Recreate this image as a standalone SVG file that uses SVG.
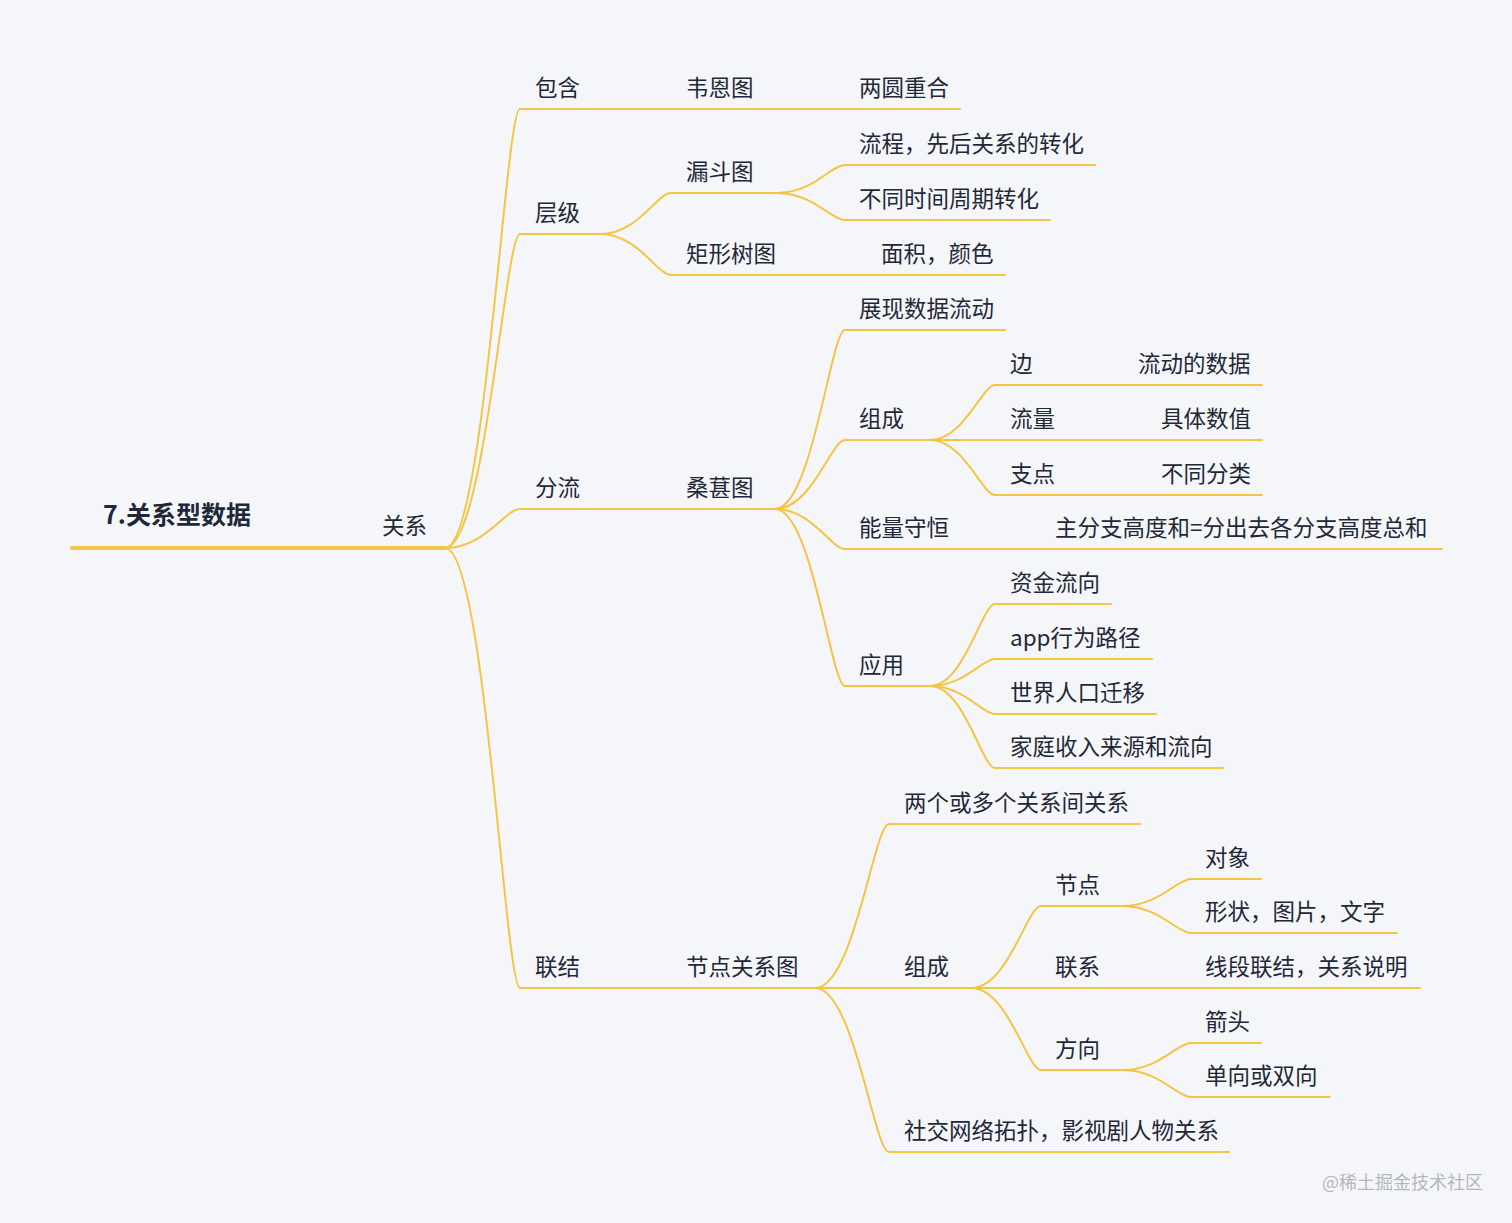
<svg xmlns="http://www.w3.org/2000/svg" width="1512" height="1223" viewBox="0 0 1512 1223">
<style>
.t{font-family:"Noto Sans CJK SC","Noto Sans",sans-serif;font-size:22.5px;fill:#1f2838}
.r{font-family:"Noto Sans CJK SC","Noto Sans",sans-serif;font-size:25px;font-weight:bold;fill:#1f2838}
.u{stroke:#f6c445;stroke-width:2;fill:none;stroke-linecap:round}
.ut{stroke:#f6c445;stroke-width:4;fill:none;stroke-linecap:round}
.c{stroke:#f6c445;stroke-width:2;fill:none}
.w{font-family:"Noto Sans CJK SC","Noto Sans",sans-serif;font-size:18px;fill:#b4b6bd}
</style>
<rect width="1512" height="1223" fill="#f5f6fa"/>
<g id="connectors">
<path class="c" d="M445,548 C485,548 505,109 520,109"/>
<path class="c" d="M445,548 C485,548 505,234 520,234"/>
<path class="c" d="M445,548 C485,548 505,509 520,509"/>
<path class="c" d="M445,548 C485,548 505,988 520,988"/>
<path class="c" d="M600,234 C638,234 657,193 671,193"/>
<path class="c" d="M600,234 C638,234 657,275 671,275"/>
<path class="c" d="M777,193 C813,193 831,165 845,165"/>
<path class="c" d="M777,193 C813,193 831,220 845,220"/>
<path class="c" d="M775,509 C812,509 831,330 845,330"/>
<path class="c" d="M775,509 C812,509 831,440 845,440"/>
<path class="c" d="M775,509 C812,509 831,549 845,549"/>
<path class="c" d="M775,509 C812,509 831,686 845,686"/>
<path class="c" d="M930,440 C964,440 982,385 995,385"/>
<path class="c" d="M930,440 L995,440"/>
<path class="c" d="M930,440 C964,440 982,495 995,495"/>
<path class="c" d="M930,686 C964,686 982,604 995,604"/>
<path class="c" d="M930,686 C964,686 982,659 995,659"/>
<path class="c" d="M930,686 C964,686 982,714 995,714"/>
<path class="c" d="M930,686 C964,686 982,768 995,768"/>
<path class="c" d="M815,988 C854,988 874,824 889,824"/>
<path class="c" d="M815,988 L889,988"/>
<path class="c" d="M815,988 C854,988 874,1152 889,1152"/>
<path class="c" d="M971,988 C1008,988 1027,906 1041,906"/>
<path class="c" d="M971,988 L1041,988"/>
<path class="c" d="M971,988 C1008,988 1027,1070 1041,1070"/>
<path class="c" d="M1122,906 C1159,906 1177,879 1191,879"/>
<path class="c" d="M1122,906 C1159,906 1177,933 1191,933"/>
<path class="c" d="M1123,1070 C1159,1070 1177,1043 1191,1043"/>
<path class="c" d="M1123,1070 C1159,1070 1177,1097 1191,1097"/>
</g>
<g id="root"><line class="ut" x1="72" y1="548" x2="370" y2="548"/><text class="r" x="103" y="524">7.关系型数据</text></g>
<g id="n-guanxi"><line class="ut" x1="370" y1="548" x2="445" y2="548"/><text class="t" x="382" y="534">关系</text></g>
<g id="n-baohan"><line class="u" x1="520" y1="109" x2="600" y2="109"/><text class="t" x="535" y="96">包含</text></g>
<g id="n-weien"><line class="u" x1="600" y1="109" x2="775" y2="109"/><text class="t" x="686" y="96">韦恩图</text></g>
<g id="n-liangyuan"><line class="u" x1="775" y1="109" x2="960" y2="109"/><text class="t" x="859" y="96">两圆重合</text></g>
<g id="n-cengji"><line class="u" x1="520" y1="234" x2="600" y2="234"/><text class="t" x="535" y="221">层级</text></g>
<g id="n-loudou"><line class="u" x1="671" y1="193" x2="777" y2="193"/><text class="t" x="686" y="180">漏斗图</text></g>
<g id="n-liucheng"><line class="u" x1="845" y1="165" x2="1095" y2="165"/><text class="t" x="859" y="152">流程，先后关系的转化</text></g>
<g id="n-butongshijian"><line class="u" x1="845" y1="220" x2="1050" y2="220"/><text class="t" x="859" y="207">不同时间周期转化</text></g>
<g id="n-juxing"><line class="u" x1="671" y1="275" x2="865" y2="275"/><text class="t" x="686" y="262">矩形树图</text></g>
<g id="n-mianji"><line class="u" x1="865" y1="275" x2="1005" y2="275"/><text class="t" x="881" y="262">面积，颜色</text></g>
<g id="n-fenliu"><line class="u" x1="520" y1="509" x2="600" y2="509"/><text class="t" x="535" y="496">分流</text></g>
<g id="n-sangshen"><line class="u" x1="600" y1="509" x2="775" y2="509"/><text class="t" x="686" y="496">桑葚图</text></g>
<g id="n-zhanxian"><line class="u" x1="845" y1="330" x2="1005" y2="330"/><text class="t" x="859" y="317">展现数据流动</text></g>
<g id="n-zucheng1"><line class="u" x1="845" y1="440" x2="930" y2="440"/><text class="t" x="859" y="427">组成</text></g>
<g id="n-bian"><line class="u" x1="995" y1="385" x2="1100" y2="385"/><text class="t" x="1010" y="372">边</text></g>
<g id="n-liudong"><line class="u" x1="1100" y1="385" x2="1262" y2="385"/><text class="t" x="1138" y="372">流动的数据</text></g>
<g id="n-liuliang"><line class="u" x1="995" y1="440" x2="1120" y2="440"/><text class="t" x="1010" y="427">流量</text></g>
<g id="n-juti"><line class="u" x1="1120" y1="440" x2="1262" y2="440"/><text class="t" x="1161" y="427">具体数值</text></g>
<g id="n-zhidian"><line class="u" x1="995" y1="495" x2="1120" y2="495"/><text class="t" x="1010" y="482">支点</text></g>
<g id="n-butongfenlei"><line class="u" x1="1120" y1="495" x2="1262" y2="495"/><text class="t" x="1161" y="482">不同分类</text></g>
<g id="n-nengliang"><line class="u" x1="845" y1="549" x2="1040" y2="549"/><text class="t" x="859" y="536">能量守恒</text></g>
<g id="n-zhufenzhi"><line class="u" x1="1040" y1="549" x2="1442" y2="549"/><text class="t" x="1055" y="536">主分支高度和=分出去各分支高度总和</text></g>
<g id="n-yingyong"><line class="u" x1="845" y1="686" x2="930" y2="686"/><text class="t" x="859" y="673">应用</text></g>
<g id="n-zijin"><line class="u" x1="995" y1="604" x2="1111" y2="604"/><text class="t" x="1010" y="591">资金流向</text></g>
<g id="n-app"><line class="u" x1="995" y1="659" x2="1152" y2="659"/><text class="t" x="1010" y="646">app行为路径</text></g>
<g id="n-shijie"><line class="u" x1="995" y1="714" x2="1156" y2="714"/><text class="t" x="1010" y="701">世界人口迁移</text></g>
<g id="n-jiating"><line class="u" x1="995" y1="768" x2="1223" y2="768"/><text class="t" x="1010" y="755">家庭收入来源和流向</text></g>
<g id="n-lianjie"><line class="u" x1="520" y1="988" x2="600" y2="988"/><text class="t" x="535" y="975">联结</text></g>
<g id="n-jiedianguanxi"><line class="u" x1="600" y1="988" x2="815" y2="988"/><text class="t" x="686" y="975">节点关系图</text></g>
<g id="n-liangge"><line class="u" x1="889" y1="824" x2="1140" y2="824"/><text class="t" x="904" y="811">两个或多个关系间关系</text></g>
<g id="n-zucheng2"><line class="u" x1="889" y1="988" x2="971" y2="988"/><text class="t" x="904" y="975">组成</text></g>
<g id="n-jiedian"><line class="u" x1="1041" y1="906" x2="1122" y2="906"/><text class="t" x="1055" y="893">节点</text></g>
<g id="n-duixiang"><line class="u" x1="1191" y1="879" x2="1261" y2="879"/><text class="t" x="1205" y="866">对象</text></g>
<g id="n-xingzhuang"><line class="u" x1="1191" y1="933" x2="1397" y2="933"/><text class="t" x="1205" y="920">形状，图片，文字</text></g>
<g id="n-lianxi"><line class="u" x1="1041" y1="988" x2="1191" y2="988"/><text class="t" x="1055" y="975">联系</text></g>
<g id="n-xianduan"><line class="u" x1="1191" y1="988" x2="1420" y2="988"/><text class="t" x="1205" y="975">线段联结，关系说明</text></g>
<g id="n-fangxiang"><line class="u" x1="1041" y1="1070" x2="1123" y2="1070"/><text class="t" x="1055" y="1057">方向</text></g>
<g id="n-jiantou"><line class="u" x1="1191" y1="1043" x2="1261" y2="1043"/><text class="t" x="1205" y="1030">箭头</text></g>
<g id="n-danxiang"><line class="u" x1="1191" y1="1097" x2="1330" y2="1097"/><text class="t" x="1205" y="1084">单向或双向</text></g>
<g id="n-shejiao"><line class="u" x1="889" y1="1152" x2="1229" y2="1152"/><text class="t" x="904" y="1139">社交网络拓扑，影视剧人物关系</text></g>
<text class="w" x="1322" y="1189">@稀土掘金技术社区</text>
</svg>
